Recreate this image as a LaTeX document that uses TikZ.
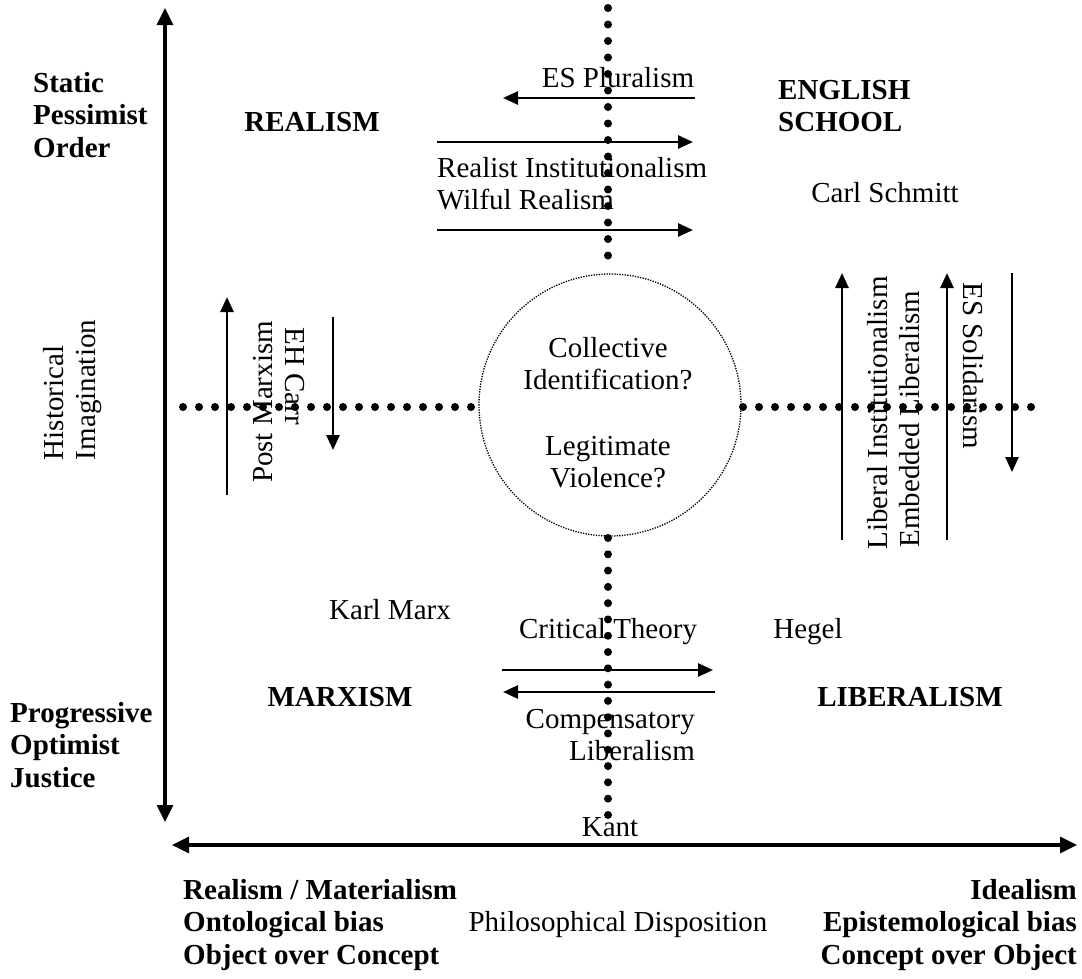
\documentclass[tikz,border=0pt]{standalone}
\usepackage{fontspec}
\setmainfont{Liberation Serif}
\usetikzlibrary{arrows.meta}
\begin{document}
\begin{tikzpicture}[x=1pt,y=-1pt,
  txt/.style={inner sep=0pt, font=\fontsize{29}{32}\selectfont},
  bld/.style={inner sep=0pt, font=\fontsize{29}{32.5}\selectfont\bfseries},
  axis/.style={line width=3.2pt, {Triangle[length=17pt,width=16pt]}-{Triangle[length=17pt,width=16pt]}},
  arr/.style={line width=2.6pt, -{Triangle[length=15pt,width=13pt]}},
  dots/.style={line width=8pt, line cap=round, dash pattern=on 0pt off #1},
]
\useasboundingbox (0,0) rectangle (1082,978);

% axes
\coordinate (vtop) at (165,8);
\coordinate (vbot) at (165,822);
\draw[axis] (vbot) -- (vtop);
\coordinate (hleft) at (172,845);
\coordinate (hright) at (1077,845);
\draw[axis] (hleft) -- (hright);

% dotted cross and circle
\node[circle, draw, line width=1.3pt, dash pattern=on 1.3pt off 1.3pt, minimum size=262pt, inner sep=0pt] (circ) at (610,405) {};
\coordinate (vt1) at (608,8);
\coordinate (vt2) at (608,272);
\coordinate (vb1) at (608,538);
\coordinate (vb2) at (608,815);
\coordinate (hl1) at (183,407);
\coordinate (hl2) at (471,407);
\coordinate (hr1) at (743,407);
\coordinate (hr2) at (1047,407);
\draw[dots=16.5pt] (vt1) -- (vt2);
\draw[dots=16.29pt] (vb1) -- (vb2);
\draw[dots=16pt] (hl1) -- (hl2);
\draw[dots=16pt] (hr1) -- (hr2);

% side labels
\node[bld, align=left, anchor=west] (spo) at (33,115) {Static\\Pessimist\\Order};
\node[bld, align=left, anchor=west] (poj) at (10,745) {Progressive\\Optimist\\Justice};
\node[txt, align=left, rotate=90] (hist) at (73,390) {Historical\\Imagination};

% quadrant titles
\node[bld] (realism) at (312,122) {REALISM};
\node[bld, align=left, anchor=west] (es) at (778,106) {ENGLISH\\SCHOOL};
\node[bld] (marxism) at (340,697) {MARXISM};
\node[bld] (liberalism) at (910,697) {LIBERALISM};

% top arrows
\node[txt] (esplur) at (618,78) {ES Pluralism};
\coordinate (a1s) at (695,98);
\coordinate (a1e) at (503,98);
\draw[arr] (a1s) -- (a1e);
\coordinate (a2s) at (437,142);
\coordinate (a2e) at (693,142);
\draw[arr] (a2s) -- (a2e);
\node[txt, align=left, anchor=west] (ri) at (437,184) {Realist Institutionalism\\Wilful Realism};
\coordinate (a3s) at (437,230);
\coordinate (a3e) at (693,230);
\draw[arr] (a3s) -- (a3e);
\node[txt] (schmitt) at (885,193) {Carl Schmitt};

% left arrows
\coordinate (pms) at (227,495);
\coordinate (pme) at (227,297);
\draw[arr] (pms) -- (pme);
\node[txt, rotate=90] (pm) at (263,402) {Post Marxism};
\node[txt, rotate=-90] (ehc) at (295,376) {EH Carr};
\coordinate (ehs) at (333,317);
\coordinate (ehe) at (333,450);
\draw[arr] (ehs) -- (ehe);

% right arrows
\coordinate (lis) at (842,540);
\coordinate (lie) at (842,273);
\draw[arr] (lis) -- (lie);
\node[txt, rotate=90] (li) at (878,413) {Liberal Institutionalism};
\node[txt, rotate=90] (el) at (910,419) {Embedded Liberalism};
\coordinate (els) at (947,540);
\coordinate (ele) at (947,273);
\draw[arr] (els) -- (ele);
\node[txt, rotate=-90] (ess) at (973,366) {ES Solidarism};
\coordinate (sos) at (1012,273);
\coordinate (soe) at (1012,472);
\draw[arr] (sos) -- (soe);

% circle text
\node[txt, align=center] (ci) at (608,364) {Collective\\Identification?};
\node[txt, align=center] (lv) at (608,462) {Legitimate\\Violence?};

% bottom part
\node[txt] (marx) at (390,610) {Karl Marx};
\node[txt] (ct) at (608,632) {Critical Theory};
\node[txt] (hegel) at (808,632) {Hegel};
\coordinate (b1s) at (502,670);
\coordinate (b1e) at (713,670);
\draw[arr] (b1s) -- (b1e);
\coordinate (b2s) at (715,692);
\coordinate (b2e) at (503,692);
\draw[arr] (b2s) -- (b2e);
\node[txt, align=right, anchor=east] (cl) at (695,735) {Compensatory\\Liberalism};
\node[txt] (kant) at (610,827) {Kant};

% bottom labels
\node[bld, align=left, anchor=west] (bl) at (183,925) {Realism / Materialism\\Ontological bias\\Object over Concept};
\node[txt] (pd) at (618,925) {Philosophical Disposition};
\node[bld, align=right, anchor=east] (br) at (1077,925) {Idealism\\Epistemological bias\\Concept over Object};
\end{tikzpicture}
\end{document}
